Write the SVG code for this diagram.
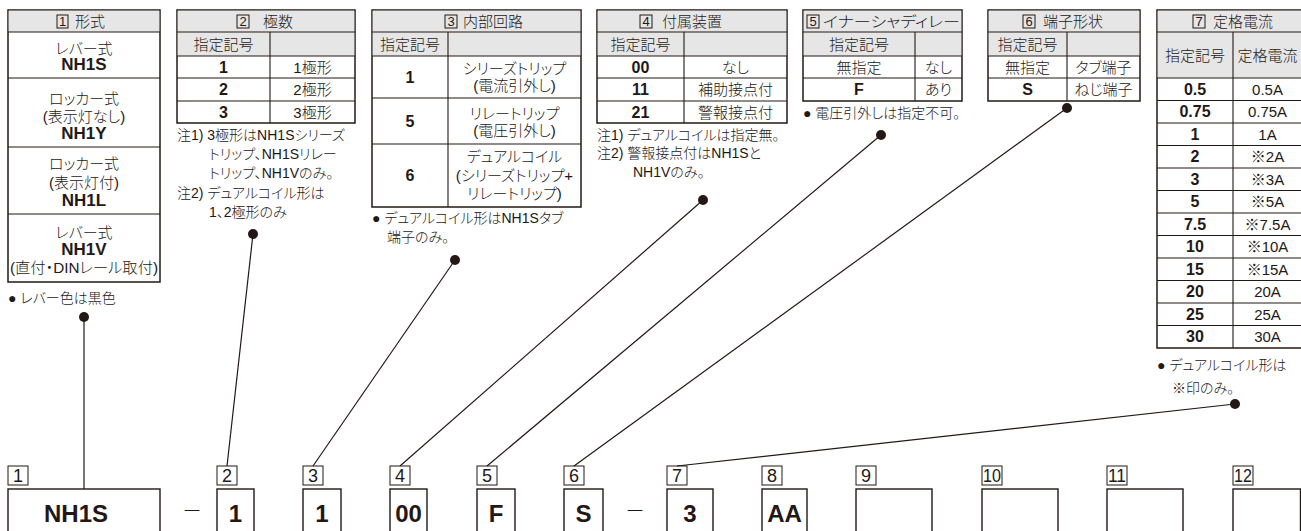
<svg xmlns="http://www.w3.org/2000/svg" width="1301" height="531" viewBox="0 0 1301 531">
<style>
text{font-family:"Liberation Sans","Noto Sans CJK JP",sans-serif;fill:#231815;font-feature-settings:"palt" 1;}
.c{font-size:15px;font-weight:300;text-anchor:middle;dominant-baseline:central;}
.b{font-size:16px;font-weight:bold;text-anchor:middle;dominant-baseline:central;}
.bn{font-size:17px;font-weight:bold;text-anchor:middle;dominant-baseline:central;}
.h{font-size:15px;font-weight:300;dominant-baseline:central;}
.hn{font-size:13px;text-anchor:middle;dominant-baseline:central;}
.n{font-size:14px;font-weight:300;dominant-baseline:central;}
.lb{font-size:18px;text-anchor:middle;dominant-baseline:central;}
.code{font-size:24px;font-weight:bold;text-anchor:middle;dominant-baseline:central;}
.dash{font-size:20px;font-weight:300;text-anchor:middle;dominant-baseline:central;}
.tb{fill:#fff;stroke:#231815;stroke-width:1.5;}
.g{fill:#e6e6e6;stroke:none;}
.ln{stroke:#231815;stroke-width:1.1;fill:none;}
.hb{fill:none;stroke:#231815;stroke-width:1;}
.box{fill:#fff;stroke:#231815;stroke-width:1.4;}
.con{stroke:#231815;stroke-width:1.2;fill:none;}
.dot{fill:#231815;}
</style>

<g id="table1">
<rect class="tb" x="8" y="10" width="152" height="272"/>
<rect class="g" x="8.7" y="10.7" width="150.6" height="21.3"/>
<path class="ln" d="M8 32H160M8 78H160M8 147H160M8 214H160"/>
<rect class="hb" x="57" y="15" width="11" height="13"/>
<text class="hn" x="62.5" y="21.5">1</text>
<text class="h" x="75" y="21">形式</text>
<text class="c" x="84" y="48">レバー式</text>
<text class="bn" x="84" y="64">NH1S</text>
<text class="c" x="84" y="98">ロッカー式</text>
<text class="c" x="84" y="116">(表示灯なし)</text>
<text class="bn" x="84" y="133">NH1Y</text>
<text class="c" x="84" y="163">ロッカー式</text>
<text class="c" x="84" y="182">(表示灯付)</text>
<text class="bn" x="84" y="200">NH1L</text>
<text class="c" x="84" y="232">レバー式</text>
<text class="bn" x="84" y="249">NH1V</text>
<text class="c" x="84" y="267" textLength="148" lengthAdjust="spacingAndGlyphs">(直付・DINレール取付)</text>
<text class="n" x="8" y="298">● レバー色は黒色</text>
</g>

<g id="table2">
<rect class="tb" x="177" y="10" width="178" height="113"/>
<rect class="g" x="177.7" y="10.7" width="176.6" height="45.3"/>
<path class="ln" d="M177 32H355M177 56H355M177 78H355M177 101H355M270 32V123"/>
<rect class="hb" x="237" y="15" width="12" height="13"/>
<text class="hn" x="243" y="21.5">2</text>
<text class="h" x="263" y="21">極数</text>
<text class="c" x="223.5" y="44">指定記号</text>
<text class="b" x="223.5" y="67">1</text>
<text class="c" x="312.5" y="67">1極形</text>
<text class="b" x="223.5" y="89.5">2</text>
<text class="c" x="312.5" y="89.5">2極形</text>
<text class="b" x="223.5" y="112">3</text>
<text class="c" x="312.5" y="112">3極形</text>
<text class="n" x="177" y="135">注1) 3極形はNH1Sシリーズ</text>
<text class="n" x="209" y="154">トリップ、NH1Sリレー</text>
<text class="n" x="209" y="173">トリップ、NH1Vのみ。</text>
<text class="n" x="177" y="193">注2) デュアルコイル形は</text>
<text class="n" x="209" y="212">1、2極形のみ</text>
</g>

<g id="table3">
<rect class="tb" x="372" y="10" width="209" height="197"/>
<rect class="g" x="372.7" y="10.7" width="207.6" height="45.3"/>
<path class="ln" d="M372 32H581M372 56H581M372 98H581M372 144H581M448 32V207"/>
<rect class="hb" x="445" y="15" width="12" height="13"/>
<text class="hn" x="451" y="21.5">3</text>
<text class="h" x="463" y="21">内部回路</text>
<text class="c" x="410" y="44">指定記号</text>
<text class="b" x="410" y="77">1</text>
<text class="c" x="514.5" y="68">シリーズトリップ</text>
<text class="c" x="514.5" y="85">(電流引外し)</text>
<text class="b" x="410" y="121">5</text>
<text class="c" x="514.5" y="113">リレートリップ</text>
<text class="c" x="514.5" y="130">(電圧引外し)</text>
<text class="b" x="410" y="175">6</text>
<text class="c" x="514.5" y="156">デュアルコイル</text>
<text class="c" x="514.5" y="175">(シリーズトリップ+</text>
<text class="c" x="514.5" y="193">リレートリップ)</text>
<text class="n" x="372" y="218">● デュアルコイル形はNH1Sタブ</text>
<text class="n" x="387" y="237">端子のみ。</text>
</g>

<g id="table4">
<rect class="tb" x="597" y="10" width="190" height="113"/>
<rect class="g" x="597.7" y="10.7" width="188.6" height="45.3"/>
<path class="ln" d="M597 32H787M597 56H787M597 78H787M597 101H787M684 32V123"/>
<rect class="hb" x="640" y="15" width="12" height="13"/>
<text class="hn" x="646" y="21.5">4</text>
<text class="h" x="662" y="21">付属装置</text>
<text class="c" x="640.5" y="44">指定記号</text>
<text class="b" x="640.5" y="67">00</text>
<text class="c" x="735.5" y="67">なし</text>
<text class="b" x="640.5" y="89.5">11</text>
<text class="c" x="735.5" y="89.5">補助接点付</text>
<text class="b" x="640.5" y="112">21</text>
<text class="c" x="735.5" y="112">警報接点付</text>
<text class="n" x="597" y="135">注1) デュアルコイルは指定無。</text>
<text class="n" x="597" y="153">注2) 警報接点付はNH1Sと</text>
<text class="n" x="633" y="172">NH1Vのみ。</text>
</g>

<g id="table5">
<rect class="tb" x="803" y="10" width="159" height="91"/>
<rect class="g" x="803.7" y="10.7" width="157.6" height="45.3"/>
<path class="ln" d="M803 32H962M803 56H962M803 78H962M915 32V101"/>
<rect class="hb" x="807" y="15" width="12" height="13"/>
<text class="hn" x="813" y="21.5">5</text>
<text class="h" x="823" y="21" textLength="137" lengthAdjust="spacingAndGlyphs">イナーシャディレー</text>
<text class="c" x="859" y="44">指定記号</text>
<text class="c" x="859" y="67">無指定</text>
<text class="c" x="938.5" y="67">なし</text>
<text class="b" x="859" y="89.5">F</text>
<text class="c" x="938.5" y="89.5">あり</text>
<text class="n" x="803" y="113">● 電圧引外しは指定不可。</text>
</g>

<g id="table6">
<rect class="tb" x="988" y="10" width="152" height="91"/>
<rect class="g" x="988.7" y="10.7" width="150.6" height="45.3"/>
<path class="ln" d="M988 32H1140M988 56H1140M988 78H1140M1067 32V101"/>
<rect class="hb" x="1023" y="15" width="12" height="13"/>
<text class="hn" x="1029" y="21.5">6</text>
<text class="h" x="1043" y="21">端子形状</text>
<text class="c" x="1027.5" y="44">指定記号</text>
<text class="c" x="1027.5" y="67">無指定</text>
<text class="c" x="1103.5" y="67">タブ端子</text>
<text class="b" x="1027.5" y="89.5">S</text>
<text class="c" x="1103.5" y="89.5">ねじ端子</text>
</g>

<g id="table7">
<rect class="tb" x="1157" y="10" width="146" height="338"/>
<rect class="g" x="1157.7" y="10.7" width="144.6" height="67.3"/>
<path class="ln" d="M1157 32H1303M1157 78H1303M1157 100.5H1303M1157 123H1303M1157 145.5H1303M1157 168H1303M1157 190.5H1303M1157 213H1303M1157 235.5H1303M1157 258H1303M1157 280.5H1303M1157 303H1303M1157 325.5H1303M1233 32V348"/>
<rect class="hb" x="1193" y="15" width="12" height="13"/>
<text class="hn" x="1199" y="21.5">7</text>
<text class="h" x="1213" y="21">定格電流</text>
<text class="c" x="1195" y="55">指定記号</text>
<text class="c" x="1267.5" y="55">定格電流</text>
<text class="b" x="1195" y="89.3">0.5</text><text class="c" x="1267.5" y="89.3">0.5A</text>
<text class="b" x="1195" y="111.8">0.75</text><text class="c" x="1267.5" y="111.8">0.75A</text>
<text class="b" x="1195" y="134.3">1</text><text class="c" x="1267.5" y="134.3">1A</text>
<text class="b" x="1195" y="156.8">2</text><text class="c" x="1267.5" y="156.8">※2A</text>
<text class="b" x="1195" y="179.3">3</text><text class="c" x="1267.5" y="179.3">※3A</text>
<text class="b" x="1195" y="201.8">5</text><text class="c" x="1267.5" y="201.8">※5A</text>
<text class="b" x="1195" y="224.3">7.5</text><text class="c" x="1267.5" y="224.3">※7.5A</text>
<text class="b" x="1195" y="246.8">10</text><text class="c" x="1267.5" y="246.8">※10A</text>
<text class="b" x="1195" y="269.3">15</text><text class="c" x="1267.5" y="269.3">※15A</text>
<text class="b" x="1195" y="291.8">20</text><text class="c" x="1267.5" y="291.8">20A</text>
<text class="b" x="1195" y="314.3">25</text><text class="c" x="1267.5" y="314.3">25A</text>
<text class="b" x="1195" y="336.8">30</text><text class="c" x="1267.5" y="336.8">30A</text>
<text class="n" x="1157" y="365">● デュアルコイル形は</text>
<text class="n" x="1172" y="388">※印のみ。</text>
</g>

<g id="connectors">
<path class="con" d="M84 317V489"/>
<path class="con" d="M253 234L227 466"/>
<path class="con" d="M455 260L313 466"/>
<path class="con" d="M703 200L400 466"/>
<path class="con" d="M881 135L487 466"/>
<path class="con" d="M1067 108L574 466"/>
<path class="con" d="M1235 404L677 466"/>
<circle class="dot" cx="84" cy="317" r="5"/>
<circle class="dot" cx="253" cy="234" r="5"/>
<circle class="dot" cx="455" cy="260" r="5"/>
<circle class="dot" cx="703" cy="200" r="5"/>
<circle class="dot" cx="881" cy="135" r="5"/>
<circle class="dot" cx="1067" cy="108" r="5"/>
<circle class="dot" cx="1235" cy="404" r="5"/>
</g>

<g id="pos1"><rect class="hb" x="8" y="466" width="20" height="19"/><text class="lb" x="18" y="476">1</text><rect class="box" x="8" y="489" width="152" height="60"/><text class="code" x="76" y="513">NH1S</text></g>
<g id="sep1"><text class="dash" x="192" y="511">－</text></g>
<g id="pos2"><rect class="hb" x="217" y="466" width="20" height="19"/><text class="lb" x="227" y="476">2</text><rect class="box" x="217" y="489" width="37" height="60"/><text class="code" x="235.5" y="513">1</text></g>
<g id="pos3"><rect class="hb" x="303" y="466" width="20" height="19"/><text class="lb" x="313" y="476">3</text><rect class="box" x="303" y="489" width="38" height="60"/><text class="code" x="322" y="513">1</text></g>
<g id="pos4"><rect class="hb" x="390" y="466" width="20" height="19"/><text class="lb" x="400" y="476">4</text><rect class="box" x="390" y="489" width="37" height="60"/><text class="code" x="408.5" y="513">00</text></g>
<g id="pos5"><rect class="hb" x="477" y="466" width="20" height="19"/><text class="lb" x="487" y="476">5</text><rect class="box" x="477" y="489" width="38" height="60"/><text class="code" x="496" y="513">F</text></g>
<g id="pos6"><rect class="hb" x="564" y="466" width="20" height="19"/><text class="lb" x="574" y="476">6</text><rect class="box" x="564" y="489" width="39" height="60"/><text class="code" x="583.5" y="513">S</text></g>
<g id="sep2"><text class="dash" x="635" y="511">－</text></g>
<g id="pos7"><rect class="hb" x="667" y="466" width="20" height="19"/><text class="lb" x="677" y="476">7</text><rect class="box" x="667" y="489" width="46" height="60"/><text class="code" x="690" y="513">3</text></g>
<g id="pos8"><rect class="hb" x="762" y="466" width="20" height="19"/><text class="lb" x="772" y="476">8</text><rect class="box" x="762" y="489" width="45" height="60"/><text class="code" x="784.5" y="513">AA</text></g>
<g id="pos9"><rect class="hb" x="856" y="466" width="20" height="19"/><text class="lb" x="866" y="476">9</text><rect class="box" x="856" y="489" width="76" height="60"/></g>
<g id="pos10"><rect class="hb" x="982" y="466" width="20" height="19"/><text class="lb" x="992" y="476" textLength="18" lengthAdjust="spacingAndGlyphs">10</text><rect class="box" x="982" y="489" width="76" height="60"/></g>
<g id="pos11"><rect class="hb" x="1107" y="466" width="20" height="19"/><text class="lb" x="1117" y="476" textLength="18" lengthAdjust="spacingAndGlyphs">11</text><rect class="box" x="1107" y="489" width="76" height="60"/></g>
<g id="pos12"><rect class="hb" x="1233" y="466" width="20" height="19"/><text class="lb" x="1243" y="476" textLength="18" lengthAdjust="spacingAndGlyphs">12</text><rect class="box" x="1233" y="489" width="67.5" height="60"/></g>
</svg>
